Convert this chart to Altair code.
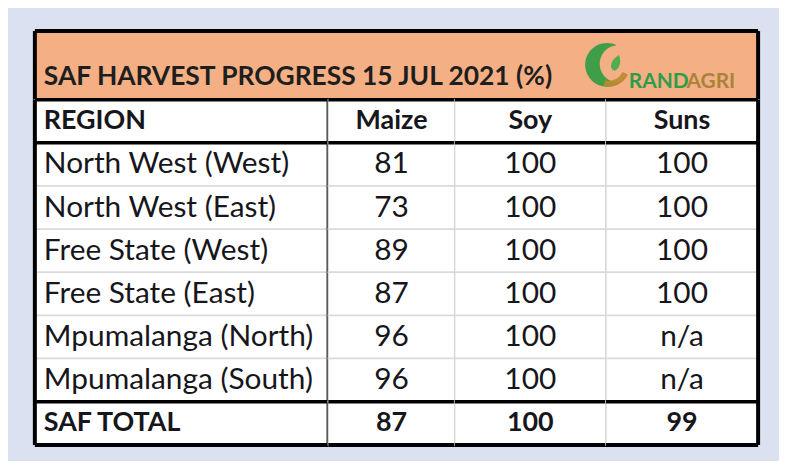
import altair as alt
import pandas as pd

title_text = "SAF HARVEST PROGRESS 15 JUL 2021 (%)"
logo_a = "RAND"
logo_b = "AGRI"
headers = ["REGION", "Maize", "Soy", "Suns"]
regions = ["North West (West)", "North West (East)", "Free State (West)",
           "Free State (East)", "Mpumalanga (North)", "Mpumalanga (South)"]
maize = ["81", "73", "89", "87", "96", "96"]
soy = ["100", "100", "100", "100", "100", "100"]
suns = ["100", "100", "100", "100", "n/a", "n/a"]
total_label = "SAF TOTAL"
totals = ["87", "100", "99"]

FONT = "Lato"
FS = 30
FS_B = 27
TITLE_FS = 26.5
INK = "#16161c"
PEACH = "#f4b084"
BG = "#dce1f2"
GRID = "#d9d9d9"

col_widths = [295, 127, 152, 153]
TOTAL_W = sum(col_widths)
TITLE_H = 69
N = 8
H = 347

columns_data = [
    [headers[0]] + regions + [total_label],
    [headers[1]] + maize + [totals[0]],
    [headers[2]] + soy + [totals[1]],
    [headers[3]] + suns + [totals[2]],
]

yscale = alt.Scale(domain=list(range(N)), paddingInner=0, paddingOuter=0)


def panel(j):
    w = col_widths[j]
    df = pd.DataFrame({
        "r": list(range(N)),
        "label": columns_data[j],
        "bold": [1] + [0] * (N - 2) + [1],
    })
    yenc = alt.Y("r:O", scale=yscale, axis=None)
    base = alt.Chart(df)
    cells = base.mark_rect(fill="white", stroke=GRID, strokeWidth=1.5).encode(
        y=yenc, x=alt.value(0), x2=alt.value(w))
    if j == 0:
        xpos = alt.value(9)
        align = "left"
    else:
        xpos = alt.value(w / 2)
        align = "center"
    txt_n = base.transform_filter("datum.bold == 0").mark_text(
        font=FONT, fontSize=FS, color=INK, align=align, baseline="middle"
    ).encode(y=yenc, x=xpos, text="label:N")
    txt_b = base.transform_filter("datum.bold == 1").mark_text(
        font=FONT, fontSize=FS_B, fontWeight="bold", color=INK, align=align,
        baseline="middle"
    ).encode(y=yenc, x=xpos, text="label:N")
    rules_df = pd.DataFrame({"r": [1, 7]})
    hr = alt.Chart(rules_df).mark_rule(color="black", strokeWidth=3.5).encode(
        y=alt.Y("r:O", scale=yscale, axis=None, bandPosition=0),
        x=alt.value(0), x2=alt.value(w))
    edge = alt.Chart(pd.DataFrame({"e": [0]}))
    top = edge.mark_rule(color="black", strokeWidth=3.5).encode(
        y=alt.value(0), x=alt.value(0), x2=alt.value(w))
    bottom = edge.mark_rule(color="black", strokeWidth=4).encode(
        y=alt.value(H), x=alt.value(0), x2=alt.value(w))
    layers = [cells, txt_n, txt_b, hr, top, bottom]
    if j == 0:
        layers.append(edge.mark_rule(color="black", strokeWidth=4).encode(
            x=alt.value(0), y=alt.value(0), y2=alt.value(H)))
        layers.append(edge.mark_rule(color="black", strokeWidth=3.5).encode(
            x=alt.value(w), y=alt.value(0), y2=alt.value(H)))
    if j == 3:
        layers.append(edge.mark_rule(color="black", strokeWidth=4).encode(
            x=alt.value(w), y=alt.value(0), y2=alt.value(H)))
    return alt.layer(*layers).properties(width=w, height=H)


CRESCENT = "M0.45,-0.9A1,1 0 1,0 0.6,0.8A0.85,0.85 0 1,1 0.45,-0.9Z"
LEAF = "M0.5,-1C0.9,-0.2 0.6,0.8 -0.1,1C-0.8,0.6 -0.5,-0.4 0.5,-1Z"

tdf = pd.DataFrame({"t": [title_text], "a": [logo_a], "b": [logo_b]})
tb = alt.Chart(tdf)
title_bg = tb.mark_rect(fill=PEACH).encode(
    x=alt.value(0), x2=alt.value(TOTAL_W), y=alt.value(0), y2=alt.value(TITLE_H))
title_txt = tb.mark_text(font=FONT, fontSize=TITLE_FS, fontWeight="bold", color="#1e1e1e",
                         align="left", baseline="alphabetic").encode(
    x=alt.value(9), y=alt.value(54), text="t:N")
crescent = tb.mark_point(shape=CRESCENT, filled=True, color="#3f9e47", size=1936,
                         opacity=1).encode(x=alt.value(575), y=alt.value(34))
swoosh = tb.mark_arc(color="#b98a30", radius=21, radius2=15,
                     theta=2.0, theta2=3.4, opacity=0.9).encode(
    x=alt.value(577), y=alt.value(35))
leaf = tb.mark_point(shape=LEAF, filled=True, color="#52ad4f", size=256,
                     opacity=1).encode(x=alt.value(583), y=alt.value(32))
logo1 = tb.mark_text(font=FONT, fontSize=21, fontWeight="bold", color="#2e9c48",
                     align="left", baseline="alphabetic").encode(
    x=alt.value(597), y=alt.value(57), text="a:N")
logo2 = tb.mark_text(font=FONT, fontSize=21, fontWeight="bold", color="#a8843a",
                     align="left", baseline="alphabetic").encode(
    x=alt.value(655), y=alt.value(57), text="b:N")
tedge = alt.Chart(pd.DataFrame({"e": [0]}))
t_top = tedge.mark_rule(color="black", strokeWidth=4).encode(
    y=alt.value(0), x=alt.value(0), x2=alt.value(TOTAL_W))
t_left = tedge.mark_rule(color="black", strokeWidth=4).encode(
    x=alt.value(0), y=alt.value(0), y2=alt.value(TITLE_H))
t_right = tedge.mark_rule(color="black", strokeWidth=4).encode(
    x=alt.value(TOTAL_W), y=alt.value(0), y2=alt.value(TITLE_H))
title_panel = alt.layer(title_bg, title_txt, crescent, swoosh, leaf, logo1, logo2,
                        t_top, t_left, t_right).properties(width=TOTAL_W, height=TITLE_H)

body = alt.hconcat(*[panel(j) for j in range(4)], spacing=0, bounds="flush")
chart = alt.vconcat(title_panel, body, spacing=0, bounds="flush").properties(
    background=BG,
    padding={"left": 25, "top": 20, "right": 19, "bottom": 13},
    autosize=alt.AutoSizeParams(type="pad", contains="content"),
).configure_view(stroke=None)

chart.save("out.html", embed_options={"renderer": "svg", "actions": False})
